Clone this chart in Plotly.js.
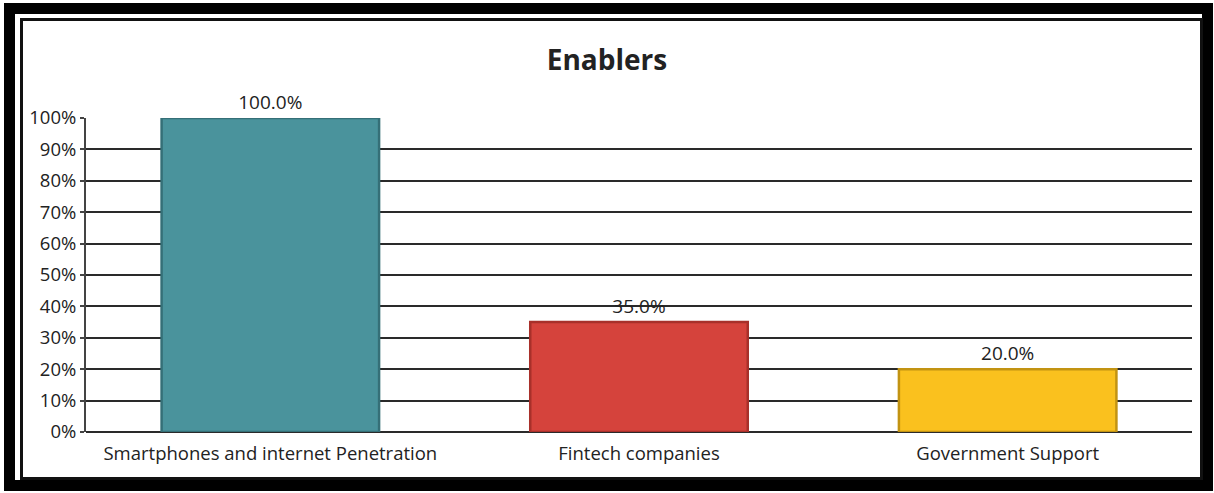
<!DOCTYPE html>
<html>
<head>
<meta charset="utf-8">
<script src="https://cdn.plot.ly/plotly-3.0.1.min.js"></script>
<style>
  html, body { margin: 0; padding: 0; background: #fff; }
  #wrap { position: relative; width: 1214px; height: 493px; overflow: hidden; }
  #chart { position: absolute; left: 0; top: 0; width: 1214px; height: 493px; }
  .frame { position: absolute; pointer-events: none; box-sizing: border-box; }
  #outer { left: 4px; top: 3px; width: 1209px; height: 488px; border: 11px solid #000; }
  #inner { left: 20px; top: 18px; width: 1183px; height: 462px; border: 3px solid #111; }
</style>
</head>
<body>
<div id="wrap">
  <div id="chart"></div>
  <div class="frame" id="outer"></div>
  <div class="frame" id="inner"></div>
</div>
<script>
const categories = ["Smartphones and internet Penetration", "Fintech companies", "Government Support"];
const values = [1.00, 0.35, 0.20];
const valueLabels = ["100.0%", "35.0%", "20.0%"];
const barColors = ["#4A939C", "#D5433C", "#FAC11E"];
const barEdges = ["#356F77", "#A8302A", "#C29312"];
const tickValues = [0, 0.1, 0.2, 0.3, 0.4, 0.5, 0.6, 0.7, 0.8, 0.9, 1.0];
const tickLabels = ["0%", "10%", "20%", "30%", "40%", "50%", "60%", "70%", "80%", "90%", "100%"];

const fontFamily = "'Open Sans', 'Noto Sans', sans-serif";

const trace = {
  type: "bar",
  x: categories,
  y: values,
  text: valueLabels,
  textposition: "outside",
  cliponaxis: false,
  textfont: { family: fontFamily, size: 19, color: "#222" },
  marker: { color: barColors, line: { color: barEdges, width: 2.5 } },
  hoverinfo: "x+y"
};

const layout = {
  width: 1214,
  height: 493,
  margin: { l: 86, r: 22, t: 118, b: 61 },
  paper_bgcolor: "rgba(0,0,0,0)",
  plot_bgcolor: "rgba(0,0,0,0)",
  showlegend: false,
  bargap: 0.41,
  title: {
    text: "<b>Enablers</b>",
    font: { family: fontFamily, size: 28, color: "#222" },
    x: 0.5, xanchor: "center",
    y: 1 - 60 / 493, yanchor: "middle"
  },
  xaxis: {
    type: "category",
    showgrid: false,
    showline: false,
    zeroline: false,
    ticks: "",
    tickfont: { family: fontFamily, size: 18.5, color: "#222" },
    ticklabelstandoff: 8
  },
  yaxis: {
    range: [0, 1],
    tickvals: tickValues,
    ticktext: tickLabels,
    ticks: "outside",
    ticklen: 4,
    tickwidth: 2,
    tickcolor: "#444",
    showline: true,
    linecolor: "#444",
    linewidth: 2,
    showgrid: true,
    gridcolor: "#2a2a2a",
    gridwidth: 2,
    zeroline: true,
    zerolinecolor: "#2a2a2a",
    zerolinewidth: 2,
    tickfont: { family: fontFamily, size: 18.5, color: "#222" },
    ticklabelstandoff: 0
  },
  shapes: [
    { type: "line", xref: "paper", yref: "y", x0: 0, x1: 0, y0: 1, y1: 1.025, line: { color: "#444", width: 2 } }
  ]
};

Plotly.newPlot("chart", [trace], layout, { displayModeBar: false, staticPlot: true });
</script>
</body>
</html>
